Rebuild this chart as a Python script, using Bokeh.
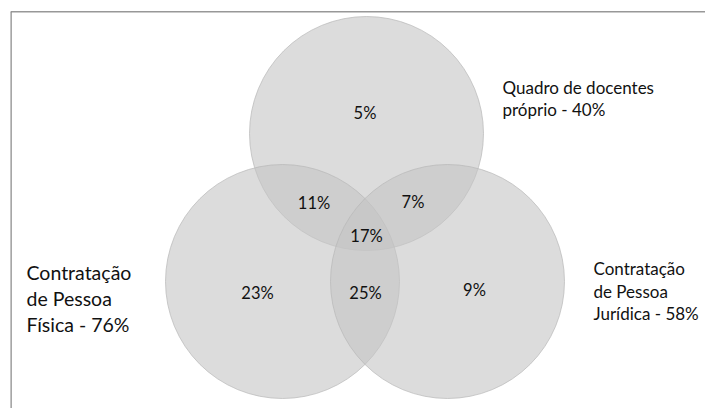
from bokeh.plotting import figure
from bokeh.models import Range1d, Span, ColumnDataSource
from bokeh.core.properties import value
from bokeh.embed import file_html
from bokeh.resources import INLINE

# ---- data ----
set_names = ["Quadro de docentes próprio", "Contratação de Pessoa Física", "Contratação de Pessoa Jurídica"]
set_totals = [40, 76, 58]
region_names = ["Só quadro", "Quadro+PF", "Quadro+PJ", "Todos", "Só PF", "PF+PJ", "Só PJ"]
region_values = [5, 11, 7, 17, 23, 25, 9]

# ---- layout (pixel positions in the picture) ----
circle_cx = [366, 282, 447]
circle_cy = [133, 281, 281]
circle_r = 117
region_x = [364.5, 313.5, 412.5, 366, 257, 365, 474]
region_y = [112, 202.5, 201.5, 235, 292, 292, 289.5]

# label lines for each set
label_lines = [
    ["Quadro de docentes", "próprio - {}%"],
    ["Contratação", "de Pessoa", "Física - {}%"],
    ["Contratação", "de Pessoa", "Jurídica - {}%"],
]
label_x = [502, 26, 593]
label_y0 = [87, 272, 268]
label_dy = [22, 26, 22.5]
label_size = ["17px", "19.5px", "17px"]

FONT = "Lato"

p = figure(width=705, height=408, output_backend="svg", toolbar_location=None,
           x_range=Range1d(10, 705), y_range=Range1d(408, 11),
           min_border_left=10, min_border_top=11, min_border_right=0, min_border_bottom=0)
p.axis.visible = False
p.grid.visible = False
p.outline_line_color = None
p.background_fill_color = "white"
p.border_fill_color = "white"

# frame border (top and left visible)
p.add_layout(Span(location=11, dimension="width", line_color="#333333", line_width=1.5))
p.add_layout(Span(location=10, dimension="height", line_color="#8a8a8a", line_width=2.5))

circles = ColumnDataSource(dict(x=circle_cx, y=circle_cy, name=set_names))
p.circle(x="x", y="y", radius=circle_r, source=circles,
         fill_color="#c4c4c4", fill_alpha=0.6,
         line_color="#b8b8b8", line_alpha=0.7, line_width=1)

regions = ColumnDataSource(dict(x=region_x, y=region_y,
                                t=[f"{v}%" for v in region_values]))
p.text(x="x", y="y", text="t", source=regions, text_font=value(FONT),
       text_font_size="16.5px", text_align="center", text_baseline="middle",
       text_color="#111111")

for i in range(3):
    lines = [ln.format(set_totals[i]) for ln in label_lines[i]]
    src = ColumnDataSource(dict(
        x=[label_x[i]] * len(lines),
        y=[label_y0[i] + k * label_dy[i] for k in range(len(lines))],
        t=lines))
    p.text(x="x", y="y", text="t", source=src, text_font=value(FONT),
           text_font_size=label_size[i], text_align="left",
           text_baseline="alphabetic", text_color="#111111")

open("out.html", "w").write(file_html(p, INLINE))
